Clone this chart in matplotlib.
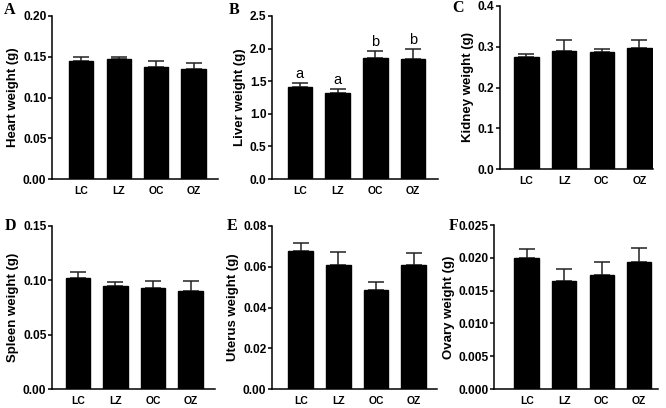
import matplotlib
matplotlib.use("Agg")
import matplotlib.pyplot as plt

plt.rcParams['font.family'] = ['Liberation Sans', 'DejaVu Sans']

groups = ['LC', 'LZ', 'OC', 'OZ']

heart = [0.145, 0.147, 0.137, 0.1345]
heart_err = [0.005, 0.0033, 0.0074, 0.0078]
liver = [1.41, 1.325, 1.855, 1.84]
liver_err = [0.06, 0.05, 0.105, 0.15]
liver_letters = ['a', 'a', 'b', 'b']
kidney = [0.274, 0.289, 0.286, 0.298]
kidney_err = [0.008, 0.027, 0.008, 0.018]
spleen = [0.1022, 0.0949, 0.093, 0.0903]
spleen_err = [0.0055, 0.0034, 0.0068, 0.0089]
uterus = [0.0679, 0.0607, 0.0487, 0.0607]
uterus_err = [0.0038, 0.0066, 0.004, 0.0061]
ovary = [0.0199, 0.0165, 0.0174, 0.0194]
ovary_err = [0.0015, 0.0018, 0.002, 0.0021]

W, H = 666, 408
fig = plt.figure(figsize=(W / 100, H / 100), dpi=100)

def panel(box, xlim, vals, errs, ymax, step, fmt, ylabel, letter, lpos, labels=None):
    x0, x1, ytop, ybot = box
    ax = fig.add_axes([x0 / W, 1 - ybot / H, (x1 - x0) / W, (ybot - ytop) / H])
    xs = range(len(groups))
    ax.bar(xs, vals, width=0.65, color='black', edgecolor='black', zorder=2)
    ax.errorbar(xs, vals, yerr=[[0] * len(errs), errs], fmt='none', ecolor='#222222',
                elinewidth=1.1, capsize=5.5, capthick=1.1, zorder=1)
    if labels:
        for x, v, e, t in zip(xs, vals, errs, labels):
            ax.text(x, v + e + ymax * 0.012, t, ha='center', va='bottom', fontsize=10.5)
    ax.set_xlim(*xlim)
    ax.set_ylim(0, ymax)
    n = int(round(ymax / step))
    ticks = [i * step for i in range(n + 1)]
    ax.set_yticks(ticks)
    ax.set_yticklabels([fmt.format(t) for t in ticks], fontsize=8.6, fontweight='bold')
    ax.set_xticks(list(xs))
    ax.set_xticklabels(groups, fontsize=7.5, fontweight='bold')
    ax.tick_params(axis='x', length=0, pad=5)
    ax.tick_params(axis='y', length=3, width=1.1, pad=1)
    for s in ['top', 'right']:
        ax.spines[s].set_visible(False)
    for s in ['left', 'bottom']:
        ax.spines[s].set_linewidth(1.1)
    ax.set_ylabel(ylabel, fontsize=9.5, fontweight='bold', labelpad=2.5)
    fig.text(lpos[0] / W, 1 - lpos[1] / H, letter, fontsize=11.5, fontweight='bold',
             family='Liberation Serif', ha='center', va='center')
    return ax

panel((52, 218, 16, 179), (-0.78, 3.65), heart, heart_err, 0.20, 0.05, '{:.2f}',
      'Heart weight (g)', 'A', (10, 10))
panel((272, 438, 16, 179), (-0.74, 3.66), liver, liver_err, 2.5, 0.5, '{:.1f}',
      'Liver weight (g)', 'B', (234, 10), liver_letters)
panel((500, 653, 6, 169), (-0.70, 3.36), kidney, kidney_err, 0.4, 0.1, '{:.1f}',
      'Kidney weight (g)', 'C', (458, 8))
panel((52, 215, 226, 389), (-0.69, 3.65), spleen, spleen_err, 0.15, 0.05, '{:.2f}',
      'Spleen weight (g)', 'D', (10, 226))
panel((272, 437, 226, 389), (-0.76, 3.62), uterus, uterus_err, 0.08, 0.02, '{:.2f}',
      'Uterus weight (g)', 'E', (232, 226))
panel((494, 658, 225, 389), (-0.87, 3.5), ovary, ovary_err, 0.025, 0.005, '{:.3f}',
      'Ovary weight (g)', 'F', (454, 226))

fig.savefig('out.png', dpi=100)
